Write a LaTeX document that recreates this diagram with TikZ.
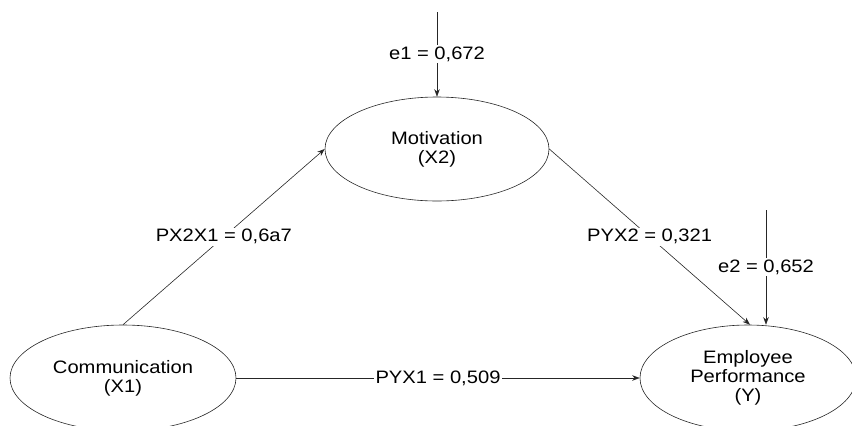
\documentclass[tikz,border=0pt]{standalone}
\usepackage{fontspec}
\setmainfont{Liberation Sans}[FakeStretch=1.12]
\usetikzlibrary{shapes,arrows,arrows.meta}
\tikzstyle{latent} = [ellipse, draw=black!85, line width=0.6pt, minimum width=224pt, minimum height=104pt, align=center, inner sep=0pt]
\tikzstyle{coef} = [fill=white, inner sep=1.5pt, midway]
\tikzstyle{arrow} = [line width=0.6pt, draw=black!85, -{Stealth[length=7.5pt,width=5.5pt]}]

\begin{document}
\begin{tikzpicture}[x=1pt, y=-1pt, font=\fontsize{18}{19}\selectfont]
\useasboundingbox (0,0) rectangle (852,426);

\node (motiv) [latent] at (437,149) {Motivation\\(X2)};
\node (comm) [latent, minimum width=226pt, minimum height=106pt] at (123,378) {Communication\\(X1)};
\node (perf) [latent, minimum width=216pt, minimum height=106pt] at (748,378) {Employee\\Performance\\(Y)};

\coordinate (e1) at (437,12);
\coordinate (e2) at (766,210);

\draw [arrow] (comm.north) -- node[coef] {PX2X1 = 0,6a7} (motiv.west);
\draw [arrow] (comm.east) -- node[coef] {PYX1 = 0,509} (perf.west);
\draw [arrow] (motiv.east) -- node[coef] {PYX2 = 0,321} ([xshift=2pt]perf.north);
\draw [arrow] (e1) -- node[coef] {e1 = 0,672} (motiv.north);
\draw [arrow] (e2) -- node[coef] {e2 = 0,652} (e2 |- perf.north);

\end{tikzpicture}
\end{document}
